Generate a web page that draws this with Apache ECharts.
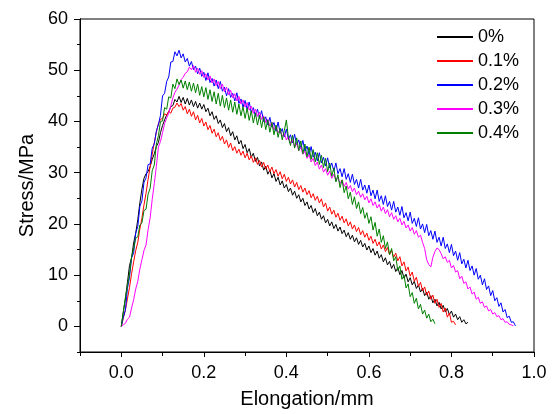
<!DOCTYPE html>
<html>
<head>
<meta charset="utf-8">
<script src="https://cdn.jsdelivr.net/npm/echarts@6/dist/echarts.min.js"></script>
<style>
html,body{margin:0;padding:0;background:#fff;}
#chart{width:554px;height:414px;}
</style>
</head>
<body>
<div id="chart"></div>
<script>
// Elongation grid (mm), shared by all series
const elongation = [
0,0.005,0.01,0.015,0.02,0.025,0.03,0.035,0.04,0.045,0.05,0.055,0.06,0.065,0.07,0.075,0.08,0.085,0.09,0.095,
0.1,0.105,0.11,0.115,0.12,0.125,0.13,0.135,0.14,0.145,0.15,0.155,0.16,0.165,0.17,0.175,0.18,0.185,0.19,0.195,
0.2,0.205,0.21,0.215,0.22,0.225,0.23,0.235,0.24,0.245,0.25,0.255,0.26,0.265,0.27,0.275,0.28,0.285,0.29,0.295,
0.3,0.305,0.31,0.315,0.32,0.325,0.33,0.335,0.34,0.345,0.35,0.355,0.36,0.365,0.37,0.375,0.38,0.385,0.39,0.395,
0.4,0.405,0.41,0.415,0.42,0.425,0.43,0.435,0.44,0.445,0.45,0.455,0.46,0.465,0.47,0.475,0.48,0.485,0.49,0.495,
0.5,0.505,0.51,0.515,0.52,0.525,0.53,0.535,0.54,0.545,0.55,0.555,0.56,0.565,0.57,0.575,0.58,0.585,0.59,0.595,
0.6,0.605,0.61,0.615,0.62,0.625,0.63,0.635,0.64,0.645,0.65,0.655,0.66,0.665,0.67,0.675,0.68,0.685,0.69,0.695,
0.7,0.705,0.71,0.715,0.72,0.725,0.73,0.735,0.74,0.745,0.75,0.755,0.76,0.765,0.77,0.775,0.78,0.785,0.79,0.795,
0.8,0.805,0.81,0.815,0.82,0.825,0.83,0.835,0.84,0.845,0.85,0.855,0.86,0.865,0.87,0.875,0.88,0.885,0.89,0.895,
0.9,0.905,0.91,0.915,0.92,0.925,0.93,0.935,0.94,0.945,0.95,0.955];

const seriesNames = ['0%','0.1%','0.2%','0.3%','0.4%'];

// Stress (MPa), one value per elongation step
const stress0 = [
0,2.9,5.4,8.6,11.9,13.4,16.3,18.2,20.8,24.1,26.8,28.9,29.8,30.2,31.2,32.6,33.7,35.1,35.9,37.8,
39.2,40.3,41.3,41.9,42.9,43.1,44.3,43.8,44.9,43.7,44.7,43.4,44.5,43.2,44.2,42.9,43.9,42.6,43.6,42.4,
43.3,41.9,42.6,41.1,41.9,40.4,41.1,39.6,40.3,38.8,39.6,38.0,38.8,37.2,38.0,36.4,37.2,35.6,36.3,34.7,
35.5,33.9,34.7,33.0,33.8,32.2,33.0,31.3,32.1,30.5,31.3,29.7,30.5,29.0,29.8,28.3,29.1,27.6,28.4,27.0,
27.7,26.3,27.0,25.6,26.4,25.0,25.7,24.3,25.0,23.6,24.3,22.9,23.6,22.2,23.0,21.6,22.3,20.9,21.6,20.2,
20.9,19.6,20.4,19.1,19.9,18.6,19.4,18.1,18.8,17.5,18.3,17.0,17.8,16.5,17.3,16.0,16.8,15.5,16.2,14.9,
15.7,14.4,15.2,13.9,14.7,13.3,14.0,12.6,13.4,12.0,12.7,11.3,12.1,10.7,11.5,10.1,10.9,9.4,10.2,8.7,
9.5,8.1,8.8,7.4,8.1,6.7,7.4,6.0,6.7,5.3,6.0,4.6,5.3,4.0,4.7,3.4,4.1,2.8,3.5,2.3,
3.0,1.8,2.4,1.3,1.9,0.8,1.3,0.5,0.8];

const stress01 = [
0,1.6,3.2,5.4,7.6,10.3,12.6,14.8,16.4,19.0,21.1,23.7,26.0,28.7,31.2,33.6,35.9,37.9,39.6,40.4,
40.6,41.5,41.2,42.0,41.6,42.6,42.8,43.6,42.9,43.5,42.2,42.9,41.5,42.4,41.0,41.9,40.3,41.2,39.7,40.6,
39.1,39.9,38.4,39.2,37.7,38.5,37.0,37.8,36.3,37.1,35.6,36.4,34.9,35.8,34.3,35.1,33.8,34.6,33.4,34.2,
32.9,33.8,32.5,33.3,32.0,32.9,31.6,32.4,31.1,32.0,30.7,31.5,30.2,31.1,29.8,30.6,29.3,30.2,28.8,29.7,
28.3,29.1,27.8,28.6,27.2,28.1,26.7,27.5,26.2,27.0,25.7,26.5,25.1,25.9,24.6,25.4,24.1,24.9,23.3,24.1,
22.5,23.3,21.9,22.7,21.3,22.1,20.7,21.5,20.2,21.0,19.6,20.4,19.0,19.8,18.5,19.3,17.9,18.7,17.4,18.2,
16.8,17.6,16.2,17.0,15.7,16.5,15.1,15.9,14.6,15.4,14.0,14.8,13.5,14.3,12.8,13.6,11.8,12.6,10.8,11.6,
9.8,10.6,8.8,9.6,7.8,8.6,6.9,7.7,6.1,6.9,5.3,6.1,4.5,5.3,3.7,4.5,2.8,3.6,1.8,2.6,
0.8,1.0,0.3];

const stress02 = [
0,1.8,3.2,7.4,9.6,13.4,14.3,18.2,19.5,23.4,24.5,28.1,29.0,31.6,31.7,34.8,35.6,38.1,39.4,41.2,
45.0,45.5,47.8,48.7,51.6,51.7,53.6,52.8,53.9,52.4,53.2,51.6,52.3,50.8,51.7,50.1,50.8,49.3,50.4,48.8,
49.6,48.0,49.5,47.6,48.4,46.9,48.1,46.4,47.8,45.9,46.7,45.0,46.4,44.7,45.5,44.0,45.6,43.5,44.4,42.8,
44.1,42.3,43.8,41.7,42.7,41.0,42.4,40.6,42.1,40.0,40.9,39.3,40.8,38.9,39.8,38.1,39.9,37.7,38.6,37.0,
38.5,36.5,37.4,35.8,37.5,35.4,36.4,34.7,36.3,34.2,35.2,33.5,35.1,33.0,34.0,32.3,33.9,31.9,33.0,31.3,
32.9,30.9,31.9,30.3,31.9,29.8,30.8,29.2,30.8,28.7,29.8,28.1,29.7,27.7,28.7,27.0,28.7,26.6,27.6,26.0,
27.6,25.5,26.6,24.9,26.6,24.4,25.5,23.8,25.5,23.4,24.4,22.7,24.4,22.3,23.3,21.7,23.4,21.2,22.2,20.6,
22.3,20.1,21.1,19.5,21.2,19.0,20.0,18.3,19.9,17.7,18.7,17.0,18.6,16.4,17.4,15.7,17.4,15.2,16.1,14.4,
16.0,13.8,14.7,12.9,14.4,12.2,13.1,11.4,12.9,10.9,11.8,10.0,11.3,9.2,10.0,8.1,9.3,7.2,7.9,6.0,
7.0,5.0,5.6,3.9,4.6,2.8,3.3,1.7,2.0,0.8,0.9,0.1];

const stress03 = [
0,0.3,0.6,1.4,1.8,3.6,5.2,7.3,8.8,11.2,13.0,14.8,15.9,18.9,21.2,24.8,27.9,31.2,35.0,36.1,
37.8,39.6,40.7,41.6,43.1,44.6,45.7,46.3,47.1,48.2,48.6,49.4,49.7,50.6,50.1,50.9,49.6,50.4,49.2,49.9,
48.6,49.3,48.1,48.9,47.5,48.3,47.0,47.8,46.4,47.3,45.8,46.7,45.2,46.1,44.6,45.4,44.0,44.9,43.4,44.2,
42.8,43.7,42.2,43.0,41.6,42.4,41.0,41.8,40.4,41.1,39.8,40.4,39.1,39.8,38.4,39.1,37.8,38.4,37.1,37.7,
36.4,37.1,35.7,36.4,35.0,35.7,34.3,35.0,33.6,34.2,32.8,33.5,32.1,32.8,31.4,32.1,30.7,31.5,30.1,30.8,
29.5,30.3,28.9,29.7,28.4,29.1,27.9,28.6,27.3,28.1,26.8,27.5,26.3,27.0,25.7,26.4,25.2,25.9,24.7,25.4,
24.1,24.9,23.6,24.3,23.1,23.8,22.5,23.3,22.0,22.8,21.4,22.2,20.9,21.6,20.4,21.1,19.8,20.5,19.2,19.8,
18.6,19.3,18.0,18.7,17.4,17.8,16.4,15.2,13.0,12.1,11.6,13.5,14.6,15.3,15.0,14.2,13.2,13.6,12.5,12.9,
11.4,11.9,10.6,10.9,9.3,9.8,8.4,8.7,7.3,7.7,6.3,6.7,5.3,5.7,4.5,4.8,3.7,4.0,3.0,3.3,
2.4,2.7,1.9,2.1,1.3,1.5,0.8,0.9,0.4,0.3,0.1];

const stress04 = [
0,2.8,5.6,7.9,10.2,13.6,15.1,17.2,17.5,19.8,20.2,22.6,22.9,25.8,27.0,30.4,31.5,35.6,37.2,40.0,
40.1,42.7,42.4,44.8,44.6,47.3,46.4,48.3,47.2,48.1,46.5,47.9,46.2,47.7,45.9,47.5,45.6,47.3,45.1,46.8,
44.8,46.6,44.3,46.2,43.9,45.8,43.4,45.5,43.0,45.1,42.7,44.6,42.2,44.2,41.8,43.8,41.4,43.4,41.1,42.9,
40.6,42.6,40.2,42.1,39.7,41.7,39.3,41.2,38.8,40.9,38.4,40.3,37.9,39.8,37.4,39.3,36.9,38.7,36.4,38.2,
40.3,36.8,35.3,37.3,34.8,36.8,34.3,36.2,33.7,35.6,33.1,35.0,32.6,34.5,32.1,33.9,31.6,33.4,31.0,32.8,
30.2,31.9,29.3,30.9,28.2,29.6,27.1,28.6,26.1,27.4,24.9,26.2,23.8,25.3,23.0,24.3,22.0,23.2,21.1,22.2,
20.1,21.4,18.8,20.3,17.6,19.0,16.4,17.7,15.2,16.5,14.0,15.2,12.8,13.6,10.9,11.8,9.2,10.0,7.5,8.3,
5.8,6.6,4.5,5.5,3.4,4.3,2.4,3.2,1.6,2.4,0.9,1.4,0.5];

const seriesColors = ['#000000','#ff0000','#0000ff','#ff00ff','#008000'];

// Axis ticks / labels
const xLabelValues = [0,0.2,0.4,0.6,0.8,1.0];
const xMinorValues = [-0.1,0.1,0.3,0.5,0.7,0.9];
const yLabelValues = [0,10,20,30,40,50,60];
const yMinorValues = [-5,5,15,25,35,45,55];

const allStress = [stress0, stress01, stress02, stress03, stress04];
const FONT = '"Liberation Sans", Arial, sans-serif';

function pairs(ys){ return ys.map((y,i)=>[elongation[i], y]); }

const chart = echarts.init(document.getElementById('chart'), null, {renderer:'canvas'});
const grid = {left:80, right:20, top:19, bottom:58, show:true, borderColor:'#000', borderWidth:1, backgroundColor:'transparent'};

const baseX = {
  type:'value', min:-0.1, max:1.0, position:'bottom',
  splitLine:{show:false},
  axisLine:{show:true, onZero:false, lineStyle:{color:'#000', width:1}}
};
const baseY = {
  type:'value', min:-5, max:60, position:'left',
  splitLine:{show:false},
  axisLine:{show:true, onZero:false, lineStyle:{color:'#000', width:1}}
};

chart.setOption({
  animation:false,
  backgroundColor:'#fff',
  grid: grid,
  legend:{
    orient:'vertical', left:437, top:27, padding:0, itemWidth:36, itemHeight:2, itemGap:4,
    icon:'rect',
    data: seriesNames,
    textStyle:{fontFamily:FONT, fontSize:18, color:'#000', lineHeight:20}
  },
  xAxis:[
    Object.assign({}, baseX, {
      name:'Elongation/mm', nameLocation:'middle', nameGap:37,
      nameTextStyle:{fontFamily:FONT, fontSize:20, color:'#000'},
      axisTick:{show:true, inside:false, length:5, customValues:xLabelValues, lineStyle:{color:'#000'}},
      axisLabel:{show:true, margin:12, customValues:xLabelValues, formatter:v=>v.toFixed(1),
        fontFamily:FONT, fontSize:18, color:'#000'}
    }),
    Object.assign({}, baseX, {
      axisTick:{show:true, inside:false, length:4, customValues:xMinorValues, lineStyle:{color:'#000'}},
      axisLabel:{show:false}
    })
  ],
  yAxis:[
    Object.assign({}, baseY, {
      name:'Stress/MPa', nameLocation:'middle', nameGap:43,
      nameTextStyle:{fontFamily:FONT, fontSize:20, color:'#000'},
      axisTick:{show:true, inside:false, length:6, customValues:yLabelValues, lineStyle:{color:'#000'}},
      axisLabel:{show:true, margin:12, customValues:yLabelValues,
        fontFamily:FONT, fontSize:18, color:'#000'}
    }),
    Object.assign({}, baseY, {
      axisTick:{show:true, inside:false, length:3, customValues:yMinorValues, lineStyle:{color:'#000'}},
      axisLabel:{show:false}
    })
  ],
  series: seriesNames.map((name,i)=>({
    name: name, type:'line', xAxisIndex:0, yAxisIndex:0,
    data: pairs(allStress[i]),
    showSymbol:false, symbol:'none',
    color: seriesColors[i],
    lineStyle:{color:seriesColors[i], width:1},
    itemStyle:{color:seriesColors[i]}
  }))
});
</script>
</body>
</html>
